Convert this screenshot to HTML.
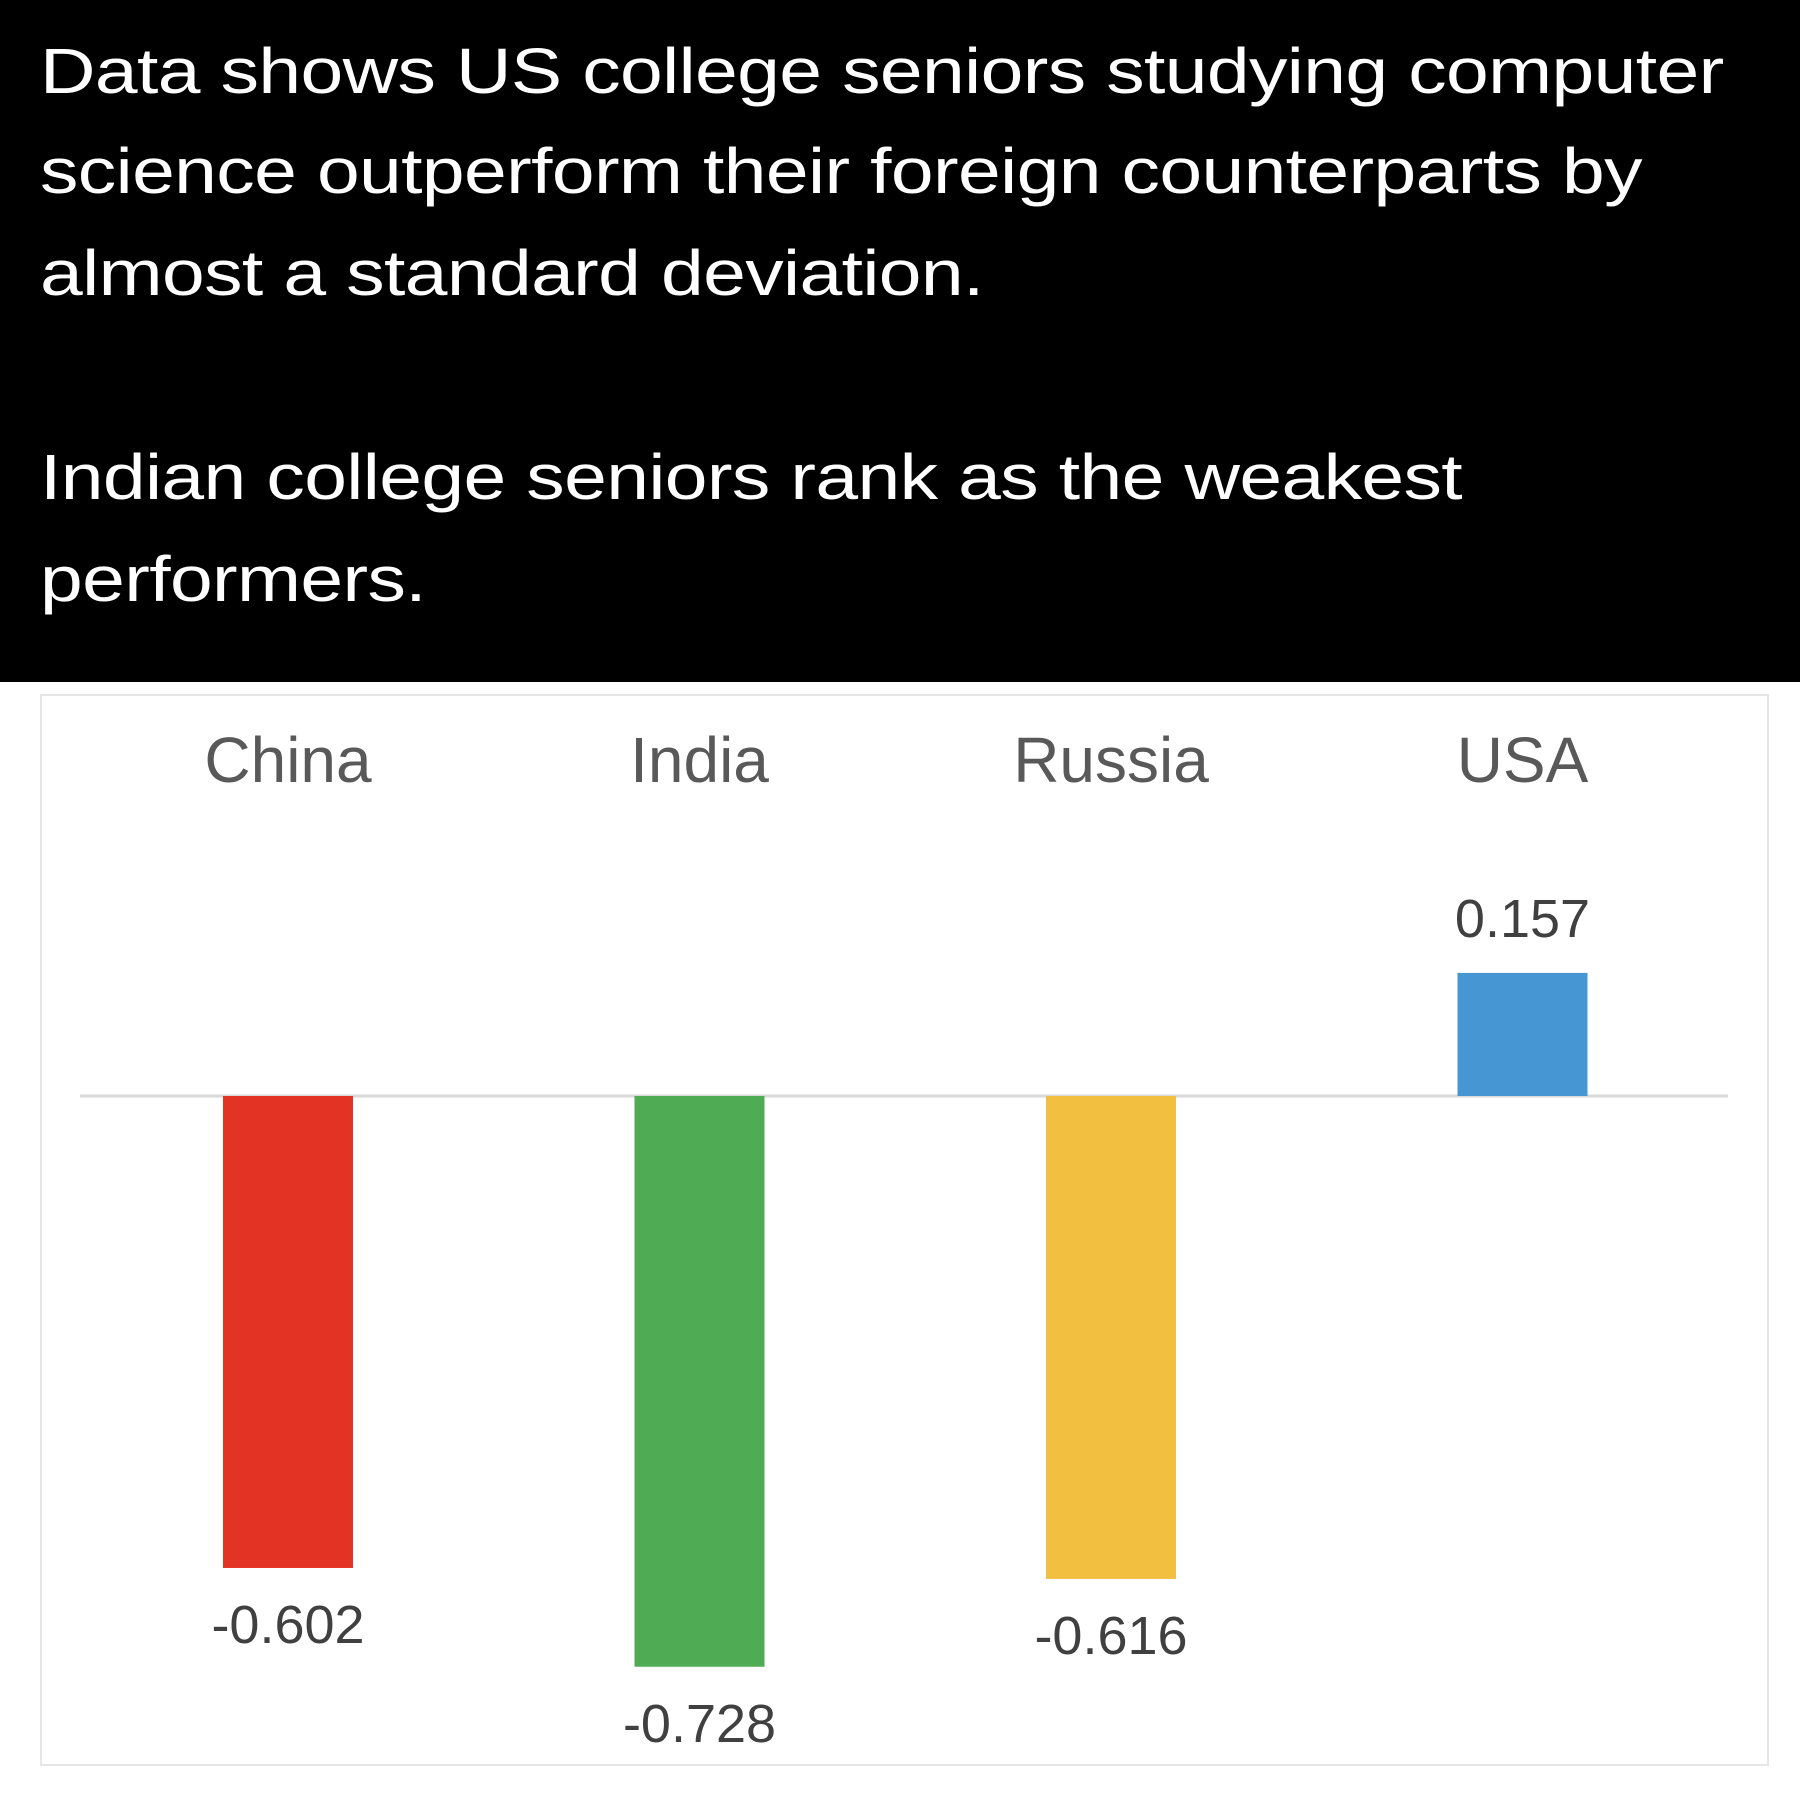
<!DOCTYPE html>
<html><head><meta charset="utf-8">
<style>
html,body{margin:0;padding:0;width:1800px;height:1800px;background:#fff;overflow:hidden}
#header{position:absolute;left:0;top:0;width:1800px;height:682px;background:#000;color:#fff;font-family:"Liberation Sans",sans-serif;font-size:64px;}
.line{position:absolute;left:40px;white-space:nowrap;letter-spacing:-0.5px;transform:scaleX(1.2);transform-origin:0 0}
</style></head><body>
<div id="header">
<div class="line" style="top:34px">Data shows US college seniors studying computer</div>
<div class="line" style="top:134px">science outperform their foreign counterparts by</div>
<div class="line" style="top:236px">almost a standard deviation.</div>
<div class="line" style="top:440px">Indian college seniors rank as the weakest</div>
<div class="line" style="top:542px">performers.</div>
</div>
<svg id="chart" width="1800" height="1118" style="position:absolute;left:0;top:682px" font-family="Liberation Sans, sans-serif">
<rect x="41" y="13" width="1727" height="1070" fill="none" stroke="#e6e6e6" stroke-width="2"/>
</svg>
<script>
const categories=["China","India","Russia","USA"];
const values=[-0.602,-0.728,-0.616,0.157];
const valueLabels=["-0.602","-0.728","-0.616","0.157"];
const colors=["#e33324","#4fac55","#f2bf41","#4596d3"];
const svg=document.getElementById('chart');
const NS="http://www.w3.org/2000/svg";
const zeroY=414, scale=784;
function y(v){return zeroY-v*scale;}
function xCenter(i){return 288+i*411.5;}
const barW=130;
const base=document.createElementNS(NS,'line');
base.setAttribute('x1',80);base.setAttribute('x2',1728);base.setAttribute('y1',zeroY);base.setAttribute('y2',zeroY);
base.setAttribute('stroke','#d9d9d9');base.setAttribute('stroke-width','3');


svg.appendChild(base);
categories.forEach((c,i)=>{
  const cx=xCenter(i), v=values[i];
  const t=document.createElementNS(NS,'text');
  t.setAttribute('x',cx);t.setAttribute('y',100);t.setAttribute('text-anchor','middle');
  t.setAttribute('font-size','64');t.setAttribute('fill','#595959');t.textContent=c;
  
  
  svg.appendChild(t);
  const r=document.createElementNS(NS,'rect');
  const top=Math.min(y(v),zeroY), h=Math.abs(y(v)-zeroY);
  r.setAttribute('x',cx-barW/2);r.setAttribute('y',top);r.setAttribute('width',barW);r.setAttribute('height',h);
  r.setAttribute('fill',colors[i]);
  
  
  svg.appendChild(r);
  const l=document.createElementNS(NS,'text');
  l.setAttribute('x',cx);l.setAttribute('text-anchor','middle');
  l.setAttribute('y', v<0 ? y(v)+75 : y(v)-36);
  l.setAttribute('font-size','54');l.setAttribute('fill','#404040');l.textContent=valueLabels[i];
  
  
  svg.appendChild(l);
});
</script>
</body></html>
